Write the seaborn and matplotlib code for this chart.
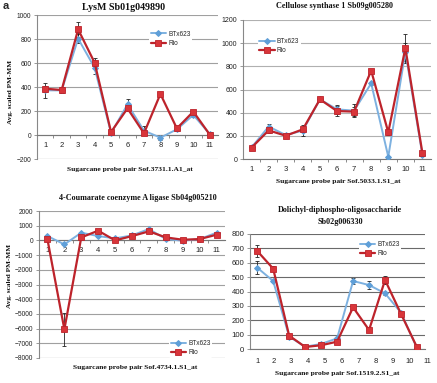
import numpy as np
import pandas as pd
import seaborn as sns
import matplotlib
matplotlib.use("Agg")
import matplotlib.pyplot as plt

probes = list(range(1, 12))

# Panel a: LysM
a_btx = [372, 372, 803, 561, 15, 255, 36, -22, 47, 167, 8]
a_rio = [386, 375, 880, 603, 25, 222, 14, 342, 55, 195, 3]
a_btx_err = [60, 25, 40, 55, 10, 45, 35, 20, 10, 15, 20]
a_rio_err = [25, 25, 60, 35, 10, 20, 15, 20, 10, 15, 5]

# Panel b: Cellulose synthase
b_btx = [100, 280, 207, 245, 515, 429, 417, 653, 20, 924, 32]
b_rio = [98, 247, 201, 256, 515, 414, 409, 763, 230, 958, 49]
b_btx_err = [10, 20, 20, 50, 10, 40, 55, 15, 10, 80, 10]
b_rio_err = [10, 20, 20, 20, 10, 40, 40, 15, 20, 125, 10]

# Panel c: 4-Coumarate coenzyme A ligase
c_btx = [295, -272, 523, 295, 136, 340, 772, 90, -23, 90, 523]
c_rio = [68, -6050, 205, 660, 0, 295, 614, 205, 45, 90, 386]
c_btx_err = [60, 60, 60, 60, 40, 40, 60, 40, 40, 40, 60]
c_rio_err = [60, 1130, 60, 60, 40, 40, 60, 40, 40, 40, 60]

# Panel d: Dolichyl-diphospho-oligosaccharide
d_btx = [566, 473, 86, 16, 35, 74, 473, 445, 387, 253, 5]
d_rio = [682, 559, 93, 14, 26, 51, 290, 132, 480, 244, 12]
d_btx_err = [45, 10, 10, 5, 5, 5, 20, 25, 10, 10, 5]
d_rio_err = [40, 15, 10, 5, 5, 5, 10, 10, 25, 10, 5]

titles = ["LysM Sb01g049890",
          "Cellulose synthase 1 Sb09g005280",
          "4-Coumarate coenzyme A ligase Sb04g005210",
          "Dolichyl-diphospho-oligosaccharide\nSb02g006330"]
xlabels = ["Sugarcane probe pair Sof.3731.1.A1_at",
           "Sugarcane probe pair Sof.5033.1.S1_at",
           "Sugarcane probe pair Sof.4734.1.S1_at",
           "Sugarcane probe pair Sof.1519.2.S1_at"]
ylabel = "Avg. scaled PM-MM"
series_names = ["BTx623", "Rio"]

sns.set_theme(style="white")
plt.rcParams["font.family"] = ["Liberation Sans", "DejaVu Sans"]

BLUE = "#7db1e0"
BLUE_M = "#5f9fd8"
RED = "#bd232b"
RED_M = "#d8353a"

fig = plt.figure(figsize=(4.37, 3.83), dpi=100)
W, H = 437, 383


def make_ax(l, r, t, b):
    return fig.add_axes([l / W, 1 - b / H, (r - l) / W, (b - t) / H])


axes = [make_ax(37, 218, 15, 159),
        make_ax(243, 431, 20, 159),
        make_ax(39, 225, 211, 358),
        make_ax(250, 425, 234, 349)]

data = [(a_btx, a_rio, a_btx_err, a_rio_err),
        (b_btx, b_rio, b_btx_err, b_rio_err),
        (c_btx, c_rio, c_btx_err, c_rio_err),
        (d_btx, d_rio, d_btx_err, d_rio_err)]
ylims = [(-200, 1000), (0, 1200), (-8000, 2000), (0, 800)]
ysteps = [200, 200, 1000, 100]
ytick_fs = [4.8, 5.0, 4.8, 5.6]
grid_cols = ["#a0a0a0", "#b0b0b0", "#a0a0a0", "#6a6a6a"]
legend_locs = [(0.62, 0.90), (0.08, 0.88), (0.70, 0.13), (0.62, 0.95)]

for i, ax in enumerate(axes):
    btx, rio, be, re = data[i]
    df = pd.DataFrame({"probe": probes * 2,
                       "value": list(btx) + list(rio),
                       "line": [series_names[0]] * 11 + [series_names[1]] * 11})
    lo, hi = ylims[i]
    ax.set_ylim(lo, hi)
    ax.set_xlim(0.5 if i != 3 else 0.55, 11.5)
    ax.set_yticks(np.arange(lo, hi + 1, ysteps[i]))
    ax.yaxis.grid(True, color=grid_cols[i], lw=0.8)
    ax.set_axisbelow(True)

    ax.errorbar(probes, btx, yerr=be, fmt="none", ecolor="#222222",
                elinewidth=0.6, capsize=1.5, capthick=0.6, zorder=2)
    ax.errorbar(probes, rio, yerr=re, fmt="none", ecolor="#222222",
                elinewidth=0.6, capsize=1.5, capthick=0.6, zorder=2)
    sns.lineplot(data=df, x="probe", y="value", hue="line", style="line",
                 palette={series_names[0]: BLUE, series_names[1]: RED},
                 markers={series_names[0]: "D", series_names[1]: "s"},
                 dashes=False, ax=ax, legend=False, zorder=3)
    lines = ax.get_lines()[-2:]
    lines[0].set_linewidth(1.4)
    lines[0].set_markersize(3)
    lines[0].set_markerfacecolor(BLUE_M)
    lines[0].set_markeredgecolor(BLUE_M)
    lines[1].set_linewidth(1.6)
    lines[1].set_markersize(4.2)
    lines[1].set_markerfacecolor(RED_M)
    lines[1].set_markeredgecolor(RED)
    lines[1].set_markeredgewidth(0.6)

    leg = ax.legend(lines, series_names, loc="upper left",
                    bbox_to_anchor=legend_locs[i], fontsize=4.7,
                    frameon=True, handlelength=2.4, handletextpad=0.3,
                    labelspacing=0.35, borderpad=0.2, borderaxespad=0)
    leg.get_frame().set_facecolor("white")
    leg.get_frame().set_edgecolor("none")
    leg.get_frame().set_alpha(1)

    for s in ["top", "right"]:
        ax.spines[s].set_visible(False)
    ax.spines["left"].set_color("#888888")
    ax.spines["left"].set_linewidth(0.8)
    ax.spines["bottom"].set_color("#777777")
    ax.spines["bottom"].set_linewidth(0.8)
    if lo < 0:
        ax.spines["bottom"].set_position(("data", 0))
        ax.axhline(lo, color=grid_cols[i], lw=0.8, zorder=0)

    ax.tick_params(axis="y", labelsize=ytick_fs[i], length=2.5, width=0.6,
                   left=True, pad=1.5, labelcolor="#222222", color="#888888")
    ax.set_ylabel("")
    ax.set_xlabel("")

    if i != 3:
        ax.set_xticks(probes)
        ax.set_xticklabels([str(p) for p in probes])
        ax.set_xticks(np.arange(1.5, 11, 1), minor=True)
        ax.tick_params(axis="x", which="major", length=0, labelsize=5.5,
                       pad=5, labelcolor="#222222")
        ax.tick_params(axis="x", which="minor", length=2.5, width=0.6,
                       color="#777777", bottom=True)
    else:
        ax.set_xticks([])
        for k, p in enumerate(probes):
            ax.text(1 + k * 17 / 16, -0.08, str(p), fontsize=5.5,
                    transform=ax.get_xaxis_transform(), ha="center",
                    va="top", color="#222222", clip_on=False)

serif = ["Liberation Serif", "DejaVu Serif"]
tkw = dict(family=serif, weight="bold", color="#111111",
           ha="center", va="center")
fig.text(124 / W, 1 - 7 / H, titles[0], fontsize=7.2, **tkw)
fig.text(335 / W, 1 - 6 / H, titles[1], fontsize=5.9, **tkw)
fig.text(138 / W, 1 - 198 / H, titles[2], fontsize=5.9, **tkw)
fig.text(340 / W, 1 - 216 / H, titles[3], fontsize=5.9,
         linespacing=1.6, **tkw)

fig.text(130 / W, 1 - 170 / H, xlabels[0], fontsize=5.4, **tkw)
fig.text(338 / W, 1 - 182 / H, xlabels[1], fontsize=5.4, **tkw)
fig.text(135 / W, 1 - 368 / H, xlabels[2], fontsize=5.4, **tkw)
fig.text(337 / W, 1 - 373 / H, xlabels[3], fontsize=5.4, **tkw)

fig.text(11 / W, 1 - 92 / H, ylabel, rotation=90, fontsize=5.2, **tkw)
fig.text(10 / W, 1 - 276 / H, ylabel, rotation=90, fontsize=5.2, **tkw)

fig.text(6 / W, 1 - 6 / H, "a", ha="center", va="center",
         fontsize=8, weight="bold", family=["Liberation Sans", "DejaVu Sans"])

fig.savefig("out.png", dpi=100, facecolor="white")
